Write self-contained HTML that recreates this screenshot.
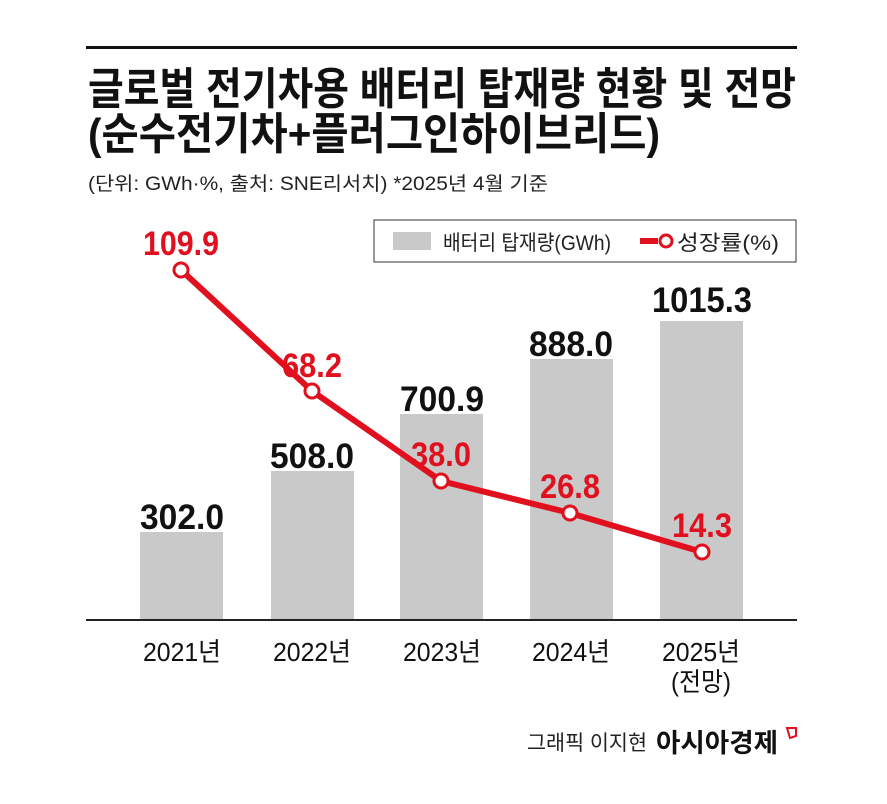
<!DOCTYPE html>
<html><head><meta charset="utf-8"><style>
html,body{margin:0;padding:0;background:#fff;}
svg{display:block;}
text{font-family:"Liberation Sans","Noto Sans CJK KR",sans-serif;}
</style></head><body>
<svg width="887" height="804" viewBox="0 0 887 804" xmlns="http://www.w3.org/2000/svg">
<rect width="887" height="804" fill="#fff"/>
<rect x="86" y="46" width="711" height="3" fill="#111"/>
<text x="88" y="104" font-size="44" font-weight="bold" fill="#111" textLength="708" lengthAdjust="spacingAndGlyphs">글로벌 전기차용 배터리 탑재량 현황 및 전망</text>
<text x="88" y="149" font-size="44" font-weight="bold" fill="#111" textLength="572" lengthAdjust="spacingAndGlyphs">(순수전기차+플러그인하이브리드)</text>
<text x="88" y="190" font-size="19" fill="#222" textLength="460" lengthAdjust="spacingAndGlyphs">(단위: GWh·%, 출처: SNE리서치)  *2025년 4월 기준</text>
<rect x="374" y="220" width="422" height="42" fill="#fff" stroke="#333" stroke-width="1"/>
<rect x="393" y="232" width="38" height="18" fill="#c9c9c9"/>
<text x="443" y="250" font-size="21" fill="#222" textLength="168" lengthAdjust="spacingAndGlyphs">배터리 탑재량(GWh)</text>
<rect x="640" y="238" width="18" height="6" fill="#e0101e"/>
<circle cx="666" cy="241" r="6" fill="#fff" stroke="#e0101e" stroke-width="3"/>
<text x="677" y="250" font-size="21" fill="#222" textLength="102" lengthAdjust="spacingAndGlyphs">성장률(%)</text>
<g fill="#c9c9c9">
<rect x="140" y="532" width="83" height="88"/>
<rect x="271" y="471" width="83" height="149"/>
<rect x="400" y="414" width="83" height="206"/>
<rect x="530" y="359" width="83" height="261"/>
<rect x="660" y="321" width="83" height="299"/>
</g>
<rect x="86" y="619" width="711" height="2" fill="#222"/>
<g font-size="35" font-weight="bold" fill="#111" text-anchor="middle">
<text x="182" y="529" textLength="84" lengthAdjust="spacingAndGlyphs">302.0</text>
<text x="312" y="468" textLength="84" lengthAdjust="spacingAndGlyphs">508.0</text>
<text x="442" y="411" textLength="84" lengthAdjust="spacingAndGlyphs">700.9</text>
<text x="571" y="356" textLength="84" lengthAdjust="spacingAndGlyphs">888.0</text>
<text x="702" y="312" textLength="100" lengthAdjust="spacingAndGlyphs">1015.3</text>
</g>
<polyline points="181,270 312,391 441,481 570,513 702,552" fill="none" stroke="#e0101e" stroke-width="6" stroke-linejoin="round"/>
<g fill="#fff" stroke="#e0101e" stroke-width="3">
<circle cx="181" cy="270" r="7"/><circle cx="312" cy="391" r="7"/><circle cx="441" cy="481" r="7"/><circle cx="570" cy="513" r="7"/><circle cx="702" cy="552" r="7"/>
</g>
<g font-size="34" font-weight="bold" fill="#e0101e" text-anchor="middle">
<text x="181" y="255" textLength="76" lengthAdjust="spacingAndGlyphs">109.9</text>
<text x="312" y="377" textLength="60" lengthAdjust="spacingAndGlyphs">68.2</text>
<text x="441" y="466" textLength="60" lengthAdjust="spacingAndGlyphs">38.0</text>
<text x="570" y="498" textLength="60" lengthAdjust="spacingAndGlyphs">26.8</text>
<text x="702" y="537" textLength="60" lengthAdjust="spacingAndGlyphs">14.3</text>
</g>
<g font-size="26" fill="#111" text-anchor="middle">
<text x="182" y="661" textLength="78" lengthAdjust="spacingAndGlyphs">2021년</text>
<text x="312" y="661" textLength="78" lengthAdjust="spacingAndGlyphs">2022년</text>
<text x="442" y="661" textLength="78" lengthAdjust="spacingAndGlyphs">2023년</text>
<text x="571" y="661" textLength="78" lengthAdjust="spacingAndGlyphs">2024년</text>
<text x="701" y="661" textLength="78" lengthAdjust="spacingAndGlyphs">2025년</text>
<text x="701" y="691" textLength="60" lengthAdjust="spacingAndGlyphs">(전망)</text>
</g>
<text x="527" y="750" font-size="21" fill="#222" textLength="120" lengthAdjust="spacingAndGlyphs">그래픽 이지현</text>
<text x="656" y="752" font-size="26" font-weight="bold" fill="#111" textLength="122" lengthAdjust="spacingAndGlyphs">아시아경제</text>
<path d="M787 728 L796 728 L796 736 L790 738 Z" fill="none" stroke="#e0101e" stroke-width="2"/>
</svg>
</body></html>
